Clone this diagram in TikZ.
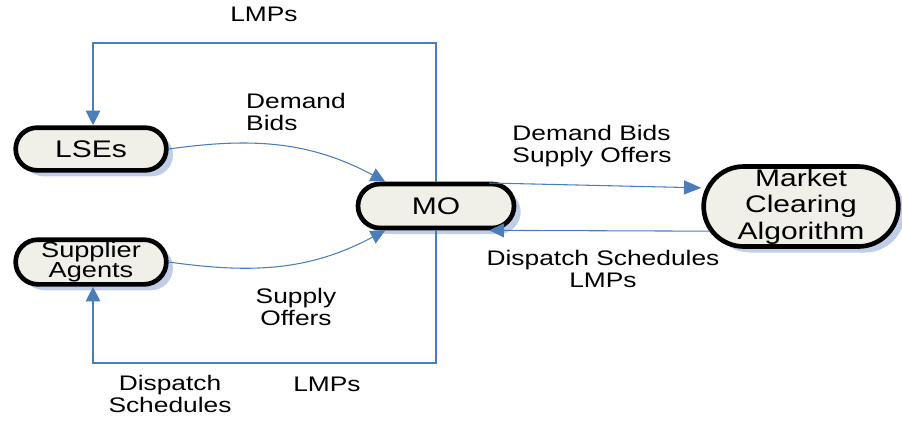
\documentclass[tikz,border=0pt]{standalone}
\usepackage{fontspec}
\setmainfont{Liberation Sans}[FakeStretch=1.25]
\usetikzlibrary{shapes.misc,arrows.meta,shadows,calc}
\definecolor{lineblue}{HTML}{4A7EBB}
\definecolor{nodefill}{HTML}{F0F0E8}
\definecolor{shadowblue}{HTML}{BFCDE8}
\begin{document}
\begin{tikzpicture}[x=0.75pt,y=-0.75pt,
  agent/.style={rounded rectangle, draw=black, line width=3.5pt, fill=nodefill,
    drop shadow={shadow xshift=5pt,shadow yshift=-4.5pt,fill=shadowblue,opacity=1},
    inner sep=0pt, align=center, font=\fontsize{18}{18}\selectfont},
  flow/.style={draw=lineblue, line width=1.8pt},
  curve/.style={draw=lineblue, line width=0.8pt},
  tip/.style={-{Triangle[length=11pt,width=10.5pt]}},
  lbl/.style={font=\fontsize{15.8}{17}\selectfont, inner sep=0pt}]
\useasboundingbox (0,0) rectangle (902,422);

\node[agent, minimum width=113pt, minimum height=32pt] (lse) at (91,149) {LSEs};
\node[agent, minimum width=113pt, minimum height=33.5pt, font=\fontsize{16.3}{15.5}\selectfont] (sup) at (91,262) {Supplier\\Agents};
\node[agent, minimum width=117pt, minimum height=33pt] (mo) at (436,206) {MO};
\node[agent, minimum width=146pt, minimum height=60pt, font=\fontsize{18}{20}\selectfont] (mca) at (801,206.5) {Market\\Clearing\\Algorithm};

% blue box
\draw[flow, tip] (mo.north) -- (436,43) coordinate (tr) -- (93,43) coordinate (tl) -- (lse.north -| tl);
\draw[flow, tip] (mo.south) -- (436,363) coordinate (br) -- (93,363) coordinate (bl) -- (sup.south -| bl);

% curves
\draw[curve, tip] (lse.east) to[out=8,in=152] ([xshift=-38pt]mo.north);
\draw[curve, tip] (sup.east) to[out=-8,in=-152] ([xshift=-38pt]mo.south);

% right arrows
\draw[curve, -{Triangle[length=13pt,width=10.5pt]}] ([xshift=40pt,yshift=-1pt]mo.north) -- ([yshift=14pt]mca.west);
\draw[curve, tip] ([yshift=-18.5pt,xshift=6pt]mca.west) -- ([xshift=40pt]mo.south);

% labels
\node[lbl] (l1) at (264,14) {LMPs};
\node[lbl, align=left] (l2) at (296,112) {Demand\\Bids};
\node[lbl, align=left] (l3) at (592,146) {Demand Bids\\Supply Offers};
\node[lbl, align=center] (l4) at (603,269) {Dispatch Schedules\\LMPs};
\node[lbl, align=center] (l5) at (296,307) {Supply\\Offers};
\node[lbl, align=center] (l6) at (170,394) {Dispatch\\Schedules};
\node[lbl] (l7) at (327,384) {LMPs};
\end{tikzpicture}
\end{document}
